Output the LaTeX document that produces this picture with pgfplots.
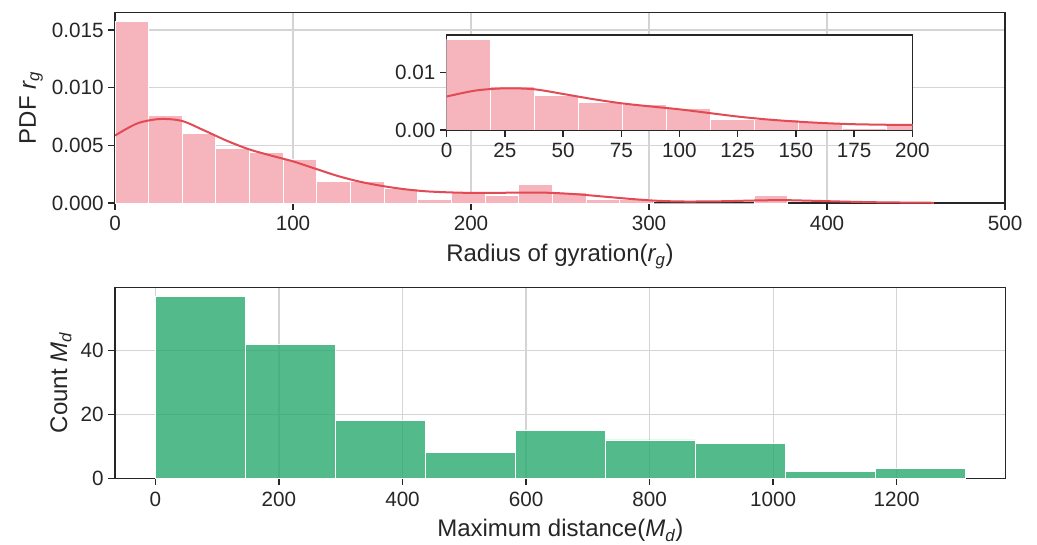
\documentclass[border=0pt]{standalone}
\usepackage{fontspec}
\setmainfont{Liberation Sans}
\usepackage{pgfplots}
\usepackage{pgfplotstable}
\pgfplotsset{compat=1.18}

\definecolor{kdered}{RGB}{226,74,84}
\definecolor{pinkbar}{RGB}{246,180,188}
\definecolor{greenbar}{RGB}{40,170,110}
\definecolor{spine}{RGB}{38,38,38}
\definecolor{gridc}{RGB}{212,212,212}

\newcommand{\rg}{{\itshape r}\textsubscript{\itshape g}}
\newcommand{\md}{{\itshape M}\textsubscript{\itshape d}}

% density of r_g histogram (left edge, value); last row closes the interval
\pgfplotstableread{
x y
0 0.01575
18.9 0.00756
37.8 0.00599
56.7 0.00473
75.6 0.00441
94.5 0.00378
113.4 0.00189
132.3 0.00189
151.2 0.00126
170.1 0.000315
189.0 0.000945
207.9 0.00063
226.8 0.001575
245.7 0.000945
264.6 0.000315
283.5 0.000315
302.4 0
321.3 0
340.2 0
359.1 0.00063
378.0 0.00063
}\rghist

\pgfplotstableread{
x y
0 0.00585
12.5 0.00690
25 0.00728
37.5 0.00712
50 0.00630
62.5 0.00542
75 0.00467
87.5 0.00412
100 0.00361
112.5 0.00298
125 0.00235
137.5 0.00185
150 0.00148
162.5 0.00120
175 0.00101
190 0.00091
200 0.00088
215 0.00088
230 0.00091
245 0.00088
260 0.00075
275 0.00055
290 0.00035
305 0.00019
320 0.00013
340 0.00015
360 0.00022
375 0.00025
390 0.00020
410 0.00012
430 0.00006
460 0.00002
}\rgkde

\pgfplotstableread{
x y
0 57
145.7 42
291.4 18
437.1 8
582.8 15
728.5 12
874.2 11
1019.9 2
1165.6 3
1311.3 3
}\mdhist

\pgfplotsset{
  base/.style={
    scale only axis,
    font=\fontsize{15.5}{18}\selectfont,
    /pgf/number format/assume math mode=true,
    /pgf/number format/1000 sep={},
    axis line style={spine, line width=1.1pt},
    tick style={spine, line width=1pt},
    tick align=outside,
    major tick length=5pt,
    tick pos=left,
    ticklabel style={text=spine},
    xticklabel style={yshift=-1.5pt},
    label style={text=spine, font=\fontsize{18}{21}\selectfont},
    xlabel style={yshift=-3pt},
    grid style={gridc, line width=0.8pt},
    scaled ticks=false,
  },
  pinkhist/.style={ybar interval, fill=pinkbar, draw=white, line width=0.7pt},
  kdeline/.style={kdered, line width=1.5pt, smooth},
}

\begin{document}
\begin{tikzpicture}
\path[use as bounding box] (0,0) rectangle (777.75pt,-408.75pt);

% top: radius of gyration
\begin{axis}[base,
  at={(86.25pt,-152.25pt)}, anchor=south west,
  width=667.5pt, height=142.7pt,
  xmin=0, xmax=500, ymin=0, ymax=0.0165,
  xtick={0,100,...,500},
  ytick={0,0.005,0.010,0.015},
  yticklabel style={/pgf/number format/.cd, fixed, fixed zerofill, precision=3},
  grid=major,
  xlabel={Radius of gyration(\rg)},
  ylabel={PDF \rg},
]
\addplot[pinkhist] table {\rghist};
\addplot[kdeline] table {\rgkde};
\end{axis}

% inset
\begin{axis}[base,
  at={(335pt,-97.5pt)}, anchor=south west,
  width=349.2pt, height=71.25pt,
  axis background/.style={fill=white},
  xmin=0, xmax=200, ymin=0, ymax=0.0166,
  xtick={0,25,...,200},
  ytick={0,0.01},
  yticklabel style={/pgf/number format/.cd, fixed, fixed zerofill, precision=2},
]
\addplot[pinkhist] table {\rghist};
\addplot[kdeline] table {\rgkde};
\end{axis}

% bottom: maximum distance
\begin{axis}[base,
  at={(86.25pt,-358.7pt)}, anchor=south west,
  width=668pt, height=143.25pt,
  xmin=-65.5, xmax=1376.6, ymin=0, ymax=59.85,
  xtick={0,200,...,1200},
  ytick={0,20,40},
  grid=major,
  xlabel={Maximum distance(\md)},
  ylabel={Count \md},
]
\addplot[ybar interval, fill=greenbar, fill opacity=0.8, draw=white, line width=0.7pt]
  table {\mdhist};
\end{axis}
\end{tikzpicture}
\end{document}
